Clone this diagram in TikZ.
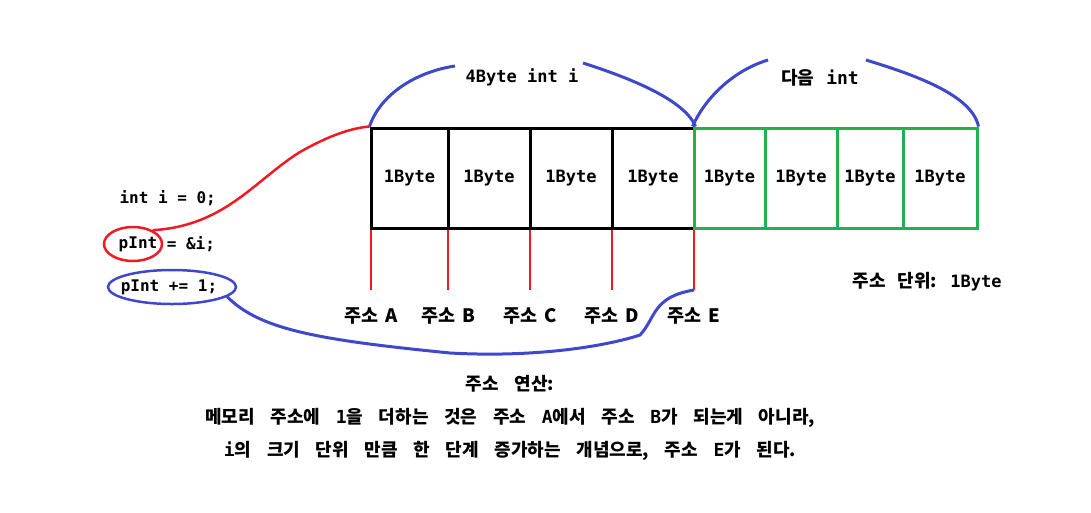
\documentclass[tikz,border=0pt]{standalone}
\usepackage{fontspec}
\setmainfont{DejaVu Sans Mono}
\newfontfamily\kr{Noto Sans CJK KR}
\newfontfamily\cd{DejaVu Sans Mono}
\usetikzlibrary{positioning,shapes.geometric}

\definecolor{pred}{RGB}{237,28,36}
\definecolor{pblue}{RGB}{63,72,204}
\definecolor{pgreen}{RGB}{34,177,76}

\newcommand\krspace{\spaceskip=12pt\relax}
\newcommand\notespace{\spaceskip=15.7pt\relax}
\newcommand\addrspace{\spaceskip=7pt\relax}

\tikzset{
	cell/.style={draw, line width=3pt, minimum height=100pt, inner sep=0pt,
		font=\cd\bfseries\fontsize{17}{20}\selectfont},
	tick/.style={draw=pred, line width=2.5pt},
	brace/.style={draw=pblue, line width=3pt},
	code/.style={font=\cd\bfseries\fontsize{16}{19}\selectfont},
	krtext/.style={font=\kr\bfseries\fontsize{18}{21}\selectfont, execute at begin node=\krspace},
	addrtext/.style={font=\kr\bfseries\fontsize{18.5}{21}\selectfont, execute at begin node=\addrspace}
}

\begin{document}
\begin{tikzpicture}[x=1pt,y=-1pt]
			\useasboundingbox (0,0) rectangle (1091,512);
			
			% Speicherzellen int i
			\foreach \a/\b/\n in {371/448/1, 448/530/2, 530/612/3, 612/694/4}
				\node[cell, minimum width={(\b-\a)*1pt}] (m\n) at ({(\a+\b)/2},178) {1Byte};
			
			% Speicherzellen naechstes int
			\foreach \a/\b/\n in {694/765/5, 765/837/6, 837/903/7, 903/977/8}
				\node[cell, draw=pgreen, minimum width={(\b-\a)*1pt}] (m\n) at ({(\a+\b)/2},178) {1Byte};
			
			% Adressmarken
			\foreach \x/\n/\l in {371/1/A, 448/2/B, 530/3/C, 612/4/D, 694/5/E} {
				\coordinate (t\n) at (\x,290);
				\draw[tick] (\x,230) -- (t\n);
				\node[addrtext] (a\n) at (\x,316) {주소 \l};
			}
			
			% Klammern oben
			\draw[brace] (m1.north west) .. controls (380,95) and (415,72) .. (455,66);
			\draw[brace] (583,63) .. controls (630,78) and (685,100) .. (m4.north east);
			\draw[brace] (m5.north west) .. controls (706,96) and (735,70) .. (768,60);
			\draw[brace] (866,60) .. controls (915,75) and (972,95) .. (m8.north east);
			\node[code, font=\cd\bfseries\fontsize{17}{20}\selectfont] (size) at (522,77) {4Byte int i};
			\node[krtext] (next) at (820,78) {다음 {\cd int}};
			
			% Code
			\node[code, anchor=west] (init) at (116,198) {int i = 0;};
			\node[code, ellipse, draw=pred, line width=2.5pt, inner sep=0pt, inner xsep=-5pt,
				minimum width=58pt, minimum height=34pt] (pint) at (133,244) {\hspace{10pt}pInt};
			\node[code, right=0pt of pint] (addr) {= \&i;};
			\node[code, ellipse, draw=pblue, line width=2.5pt, inner sep=0pt,
				minimum width=128pt, minimum height=34pt] (incr) at (172,287) {\hspace{-6pt}pInt += 1;};
			
			% Verbindungen
			\draw[tick] (pint.35) .. controls (225,226) and (255,180) .. (300,152)
				.. controls (330,135) and (352,128) .. (m1.north west);
			\draw[brace] (incr.-10) .. controls (260,330) and (320,340) .. (450,353)
				.. controls (540,358) and (610,345) .. (640,335)
				.. controls (656,318) and (652,297) .. (t5);
			
			% Beschriftungen
			\node[krtext] (unit) at (927,282) {주소 단위: {\cd\fontsize{17}{20}\selectfont 1Byte}};
			\node[krtext, align=center, font=\kr\bfseries\fontsize{18}{33}\selectfont,
				execute at begin node=\notespace] (note) at (510,418)
				{주소 연산:\\
				메모리 주소에 {\cd 1}을 더하는 것은 주소 {\cd A}에서 주소 {\cd B}가 되는게 아니라,\\
				{\cd i}의 크기 단위 만큼 한 단계 증가하는 개념으로, 주소 {\cd E}가 된다.};
	\end{tikzpicture}
\end{document}
